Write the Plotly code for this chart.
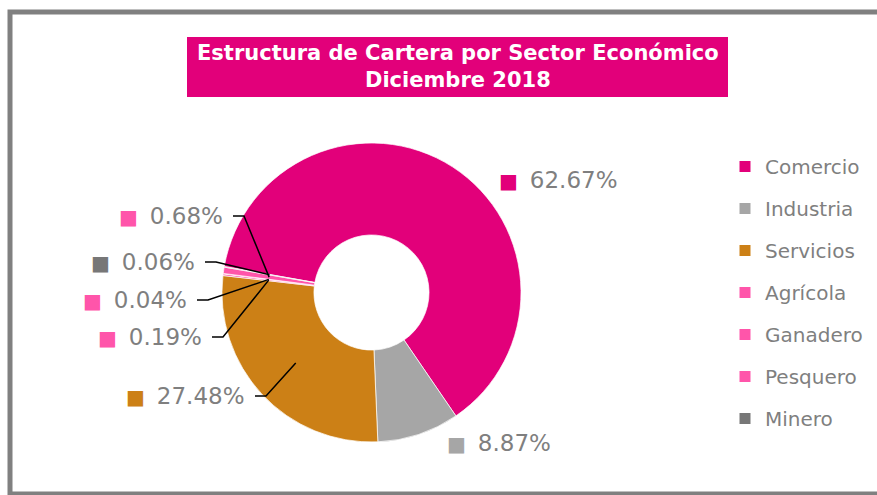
import numpy as np
import plotly.graph_objects as go

# data
sectores = ['Comercio', 'Industria', 'Servicios', 'Agrícola', 'Ganadero', 'Pesquero', 'Minero']
participacion = [62.67, 8.87, 27.48, 0.19, 0.04, 0.68, 0.06]
colores = ['#E2007A', '#A6A6A6', '#CC8016', '#FF55AA', '#FF55AA', '#FF55AA', '#777777']

titulo = 'Estructura de Cartera por Sector Económico<br>Diciembre 2018'

W, H = 877, 495
cx, cy, R = 371.5, 292.5, 149.5   # pie centre / radius in px
hole = 0.385
rot = 280

# where each data label sits (px) -- 'l' = text to the right, 'r' = text to the left with leader line
pos_etiq = {
    'Comercio': (497, 180, 'l'),
    'Industria': (445, 443, 'l'),
    'Servicios': (255, 396, 'r'),
    'Agrícola': (212, 337, 'r'),
    'Ganadero': (197, 300, 'r'),
    'Pesquero': (233, 216, 'r'),
    'Minero': (205, 262, 'r'),
}

gris = '#7F7F7F'


def px(x):
    return x / W


def py(y):
    return 1 - y / H


fig = go.Figure()

fig.add_trace(go.Pie(
    labels=sectores, values=participacion, sort=False, direction='clockwise',
    rotation=rot, hole=hole, textinfo='none', showlegend=False,
    marker=dict(colors=colores, line=dict(color='white', width=0.7)),
    domain=dict(x=[px(cx - R), px(cx + R)], y=[py(cy + R), py(cy - R)]),
))

# legend through dummy traces so the row spacing can be set
for s, c in zip(sectores, colores):
    fig.add_trace(go.Scatter(x=[None], y=[None], mode='markers', name=s, legendgroup=s,
                             marker=dict(symbol='square', size=11, color=c)))

# data labels + leader lines
total = sum(participacion)
acum = 0
annots = []
shapes = []
r_mid = R * (1 + hole) / 2
for s, v, c in zip(sectores, participacion, colores):
    th = np.deg2rad(rot + 360 * (acum + v / 2) / total)
    acum += v
    sx = cx + r_mid * np.sin(th)
    sy = cy - r_mid * np.cos(th)
    x, y, lado = pos_etiq[s]
    txt = "<span style='color:%s;font-size:20px'>■</span>\u00a0\u2009%.2f%%" % (c, v)
    if lado == 'l':
        annots.append(dict(x=px(x), y=py(y), xref='paper', yref='paper', text=txt,
                           showarrow=False, xanchor='left', yanchor='middle',
                           font=dict(size=23, color=gris, family='DejaVu Sans')))
    else:
        annots.append(dict(x=px(x - 8), y=py(y), xref='paper', yref='paper', text=txt,
                           showarrow=False, xanchor='right', yanchor='middle',
                           font=dict(size=23, color=gris, family='DejaVu Sans')))
        shapes.append(dict(type='path', xref='paper', yref='paper',
                           path='M %f,%f L %f,%f L %f,%f' % (px(x), py(y), px(x + 11), py(y), px(sx), py(sy)),
                           line=dict(color='black', width=1.5)))

# frame and title box
shapes.append(dict(type='rect', xref='paper', yref='paper', x0=px(10), y0=py(494), x1=1.05, y1=py(12),
                   line=dict(color='#808080', width=5), layer='below'))
shapes.append(dict(type='rect', xref='paper', yref='paper', x0=px(187), y0=py(97), x1=px(728), y1=py(37),
                   fillcolor='#E2007A', line=dict(width=0), layer='below'))
annots.append(dict(x=px(457.5), y=py(67), xref='paper', yref='paper', text=titulo, showarrow=False,
                   xanchor='center', yanchor='middle',
                   font=dict(size=21, color='white', family='DejaVu Sans', weight='bold')))

fig.update_layout(
    width=W, height=H, autosize=False,
    margin=dict(l=0, r=0, t=0, b=0),
    paper_bgcolor='white', plot_bgcolor='white',
    xaxis=dict(visible=False), yaxis=dict(visible=False),
    legend=dict(x=px(725), y=py(147), xanchor='left', yanchor='top',
                font=dict(size=20, color=gris, family='DejaVu Sans'),
                tracegroupgap=13, itemwidth=30, bgcolor='rgba(0,0,0,0)'),
    shapes=shapes, annotations=annots,
)

fig.write_html("out.html", config={'displayModeBar': False},
               post_script="document.body.style.margin='0';")
